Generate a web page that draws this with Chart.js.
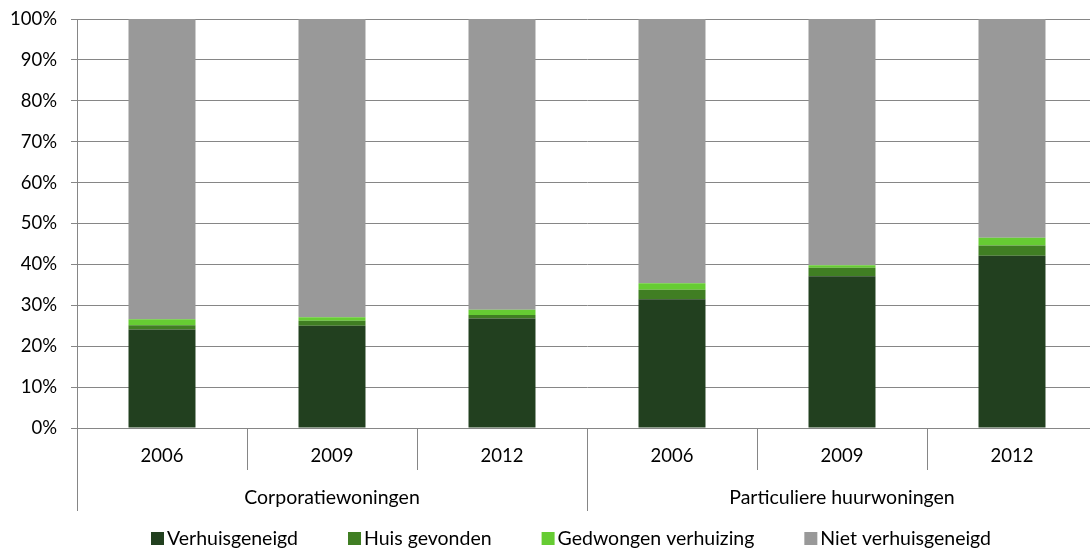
<!DOCTYPE html>
<html>
<head>
<meta charset="utf-8">
<script src="https://cdn.jsdelivr.net/npm/chart.js@4.4.1/dist/chart.umd.min.js"></script>
<style>
  html, body { margin: 0; padding: 0; background: #fff; overflow: hidden; }
  #wrap { width: 1100px; height: 549px; position: relative; }
</style>
</head>
<body>
<div id="wrap"><canvas id="c" width="1100" height="549"></canvas></div>
<script>
// ---- data ----
const years = ['2006', '2009', '2012', '2006', '2009', '2012'];
const groups = ['Corporatiewoningen', 'Particuliere huurwoningen'];
const seriesNames = ['Verhuisgeneigd', 'Huis gevonden', 'Gedwongen verhuizing', 'Niet verhuisgeneigd'];
const verhuisgeneigd = [24.1, 25.0, 26.8, 31.5, 37.1, 42.1];
const huisGevonden   = [1.0, 1.2, 0.8, 2.3, 2.1, 2.5];
const gedwongen      = [1.5, 0.9, 1.3, 1.6, 0.6, 1.9];
const nietVerhuis    = [73.4, 72.9, 71.1, 64.6, 60.2, 53.5];
const yTicks = [0, 10, 20, 30, 40, 50, 60, 70, 80, 90, 100];

const colors = ['#22401f', '#407e23', '#66cc33', '#999999'];
const FONT = 'Lato';
const TICK_SIZE = 18.5;
const TEXT_SIZE = 19.5;
const gridColor = '#868686';

const extras = {
  id: 'extras',
  afterDraw(chart) {
    const ctx = chart.ctx;
    const x = chart.scales.x;
    const n = years.length;
    const step = (x.right - x.left) / n;
    const base = x.top;
    ctx.save();
    ctx.strokeStyle = gridColor;
    ctx.lineWidth = 1;
    for (let i = 0; i <= n; i++) {
      const px = Math.round(x.left + i * step) + 0.5;
      const isGroup = (i % 3 === 0);
      ctx.beginPath();
      ctx.moveTo(px, base);
      ctx.lineTo(px, base + (isGroup ? 83 : 42));
      ctx.stroke();
    }
    ctx.fillStyle = '#000';
    ctx.font = TEXT_SIZE + 'px "' + FONT + '"';
    ctx.textAlign = 'center';
    ctx.textBaseline = 'middle';
    groups.forEach((g, gi) => {
      const cx = x.left + (gi * 3 + 1.5) * step;
      ctx.fillText(g, cx, base + 70);
    });
    // legend
    const ds = chart.data.datasets;
    const box = 13, gapText = 3, itemGap = 50;
    let lx = 151;
    const ly = 538;
    ctx.textAlign = 'left';
    ds.forEach((d) => {
      ctx.fillStyle = d.backgroundColor;
      ctx.fillRect(lx, ly - 6, box, box);
      ctx.fillStyle = '#000';
      ctx.fillText(d.label, lx + box + gapText, ly + 1);
      lx += box + gapText + ctx.measureText(d.label).width + itemGap;
    });
    ctx.restore();
  }
};

new Chart(document.getElementById('c'), {
  type: 'bar',
  data: {
    labels: years,
    datasets: [verhuisgeneigd, huisGevonden, gedwongen, nietVerhuis].map((vals, i) => ({
      label: seriesNames[i],
      data: vals,
      backgroundColor: colors[i],
      borderWidth: 0,
      barPercentage: 0.394,
      categoryPercentage: 1.0
    }))
  },
  options: {
    responsive: false,
    animation: false,
    layout: { padding: { top: 19, right: 3, bottom: 38, left: 0 } },
    plugins: { legend: { display: false }, tooltip: { enabled: false } },
    scales: {
      x: {
        stacked: true,
        grid: { display: false, drawTicks: false },
        border: { display: true, color: gridColor },
        ticks: { color: '#000', font: { family: FONT, size: TICK_SIZE }, padding: 17, maxRotation: 0 },
        afterFit(s) { s.height = 83; }
      },
      y: {
        stacked: true,
        min: 0, max: 100,
        afterBuildTicks(s) { s.ticks = yTicks.map(v => ({ value: v })); },
        grid: { color: gridColor, tickLength: 6 },
        border: { display: true, color: gridColor },
        ticks: { color: '#000', font: { family: FONT, size: TICK_SIZE, lineHeight: 1 }, padding: 14, callback: v => v + '%' },
        afterFit(s) { s.width = 77; s.paddingTop = 0; s.paddingBottom = 0; }
      }
    }
  },
  plugins: [extras]
});
</script>
</body>
</html>
